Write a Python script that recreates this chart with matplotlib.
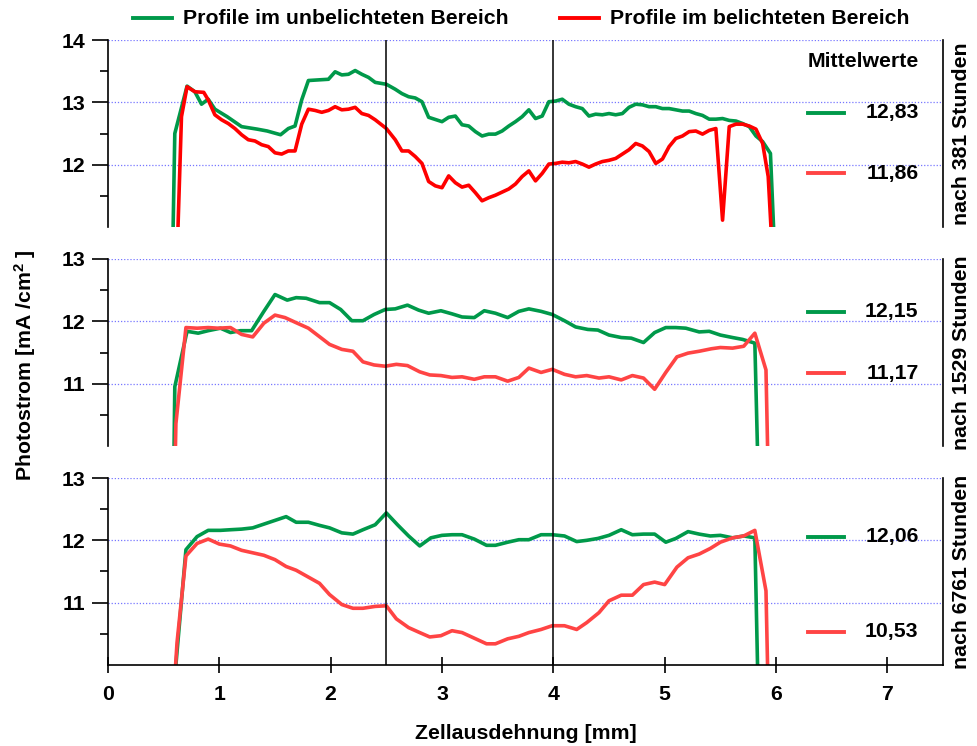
import matplotlib
matplotlib.use("Agg")
import matplotlib.pyplot as plt
from matplotlib.lines import Line2D
from matplotlib.ticker import FixedLocator

plt.rcParams["font.family"] = ["Liberation Sans", "DejaVu Sans"]
plt.rcParams["font.weight"] = "bold"
plt.rcParams["mathtext.fontset"] = "custom"
plt.rcParams["mathtext.rm"] = "Liberation Sans:bold"
plt.rcParams["mathtext.it"] = "Liberation Sans:bold"
plt.rcParams["mathtext.bf"] = "Liberation Sans:bold"

# --- data: nach 381 Stunden ---
x381_g = [0.58, 0.60, 0.71, 0.78, 0.84, 0.90, 0.96, 1.07, 1.20, 1.34, 1.43, 1.55, 1.62, 1.68,
          1.74, 1.80, 1.98, 2.04, 2.10, 2.16, 2.22, 2.28, 2.34, 2.40, 2.50, 2.58, 2.64, 2.70,
          2.76, 2.82, 2.88, 3.00, 3.06, 3.12, 3.18, 3.24, 3.30, 3.36, 3.42, 3.48, 3.54, 3.60,
          3.66, 3.72, 3.78, 3.84, 3.90, 3.96, 4.02, 4.08, 4.14, 4.20, 4.26, 4.32, 4.38, 4.44,
          4.50, 4.56, 4.62, 4.68, 4.74, 4.80, 4.86, 4.92, 4.98, 5.04, 5.10, 5.16, 5.22, 5.28,
          5.34, 5.40, 5.46, 5.52, 5.58, 5.64, 5.70, 5.76, 5.82, 5.88, 5.95, 5.99]
y381_g = [10.5, 12.50, 13.26, 13.17, 12.97, 13.05, 12.89, 12.77, 12.61, 12.57, 12.54, 12.48, 12.58, 12.62,
          13.04, 13.35, 13.37, 13.49, 13.44, 13.45, 13.51, 13.45, 13.40, 13.32, 13.29, 13.21, 13.14, 13.09,
          13.07, 13.01, 12.76, 12.69, 12.76, 12.78, 12.64, 12.62, 12.53, 12.46, 12.49, 12.49, 12.54, 12.62,
          12.69, 12.77, 12.88, 12.74, 12.78, 13.01, 13.02, 13.05, 12.97, 12.93, 12.90, 12.78, 12.81, 12.80,
          12.82, 12.80, 12.82, 12.92, 12.97, 12.96, 12.93, 12.93, 12.90, 12.90, 12.88, 12.86, 12.86, 12.82,
          12.79, 12.73, 12.73, 12.74, 12.71, 12.70, 12.66, 12.61, 12.46, 12.37, 12.18, 10.5]
x381_r = [0.62, 0.66, 0.71, 0.78, 0.86, 0.90, 0.96, 1.02, 1.08, 1.14, 1.20, 1.26, 1.32, 1.38,
          1.44, 1.50, 1.56, 1.62, 1.68, 1.74, 1.80, 1.86, 1.92, 1.98, 2.04, 2.10, 2.16, 2.22,
          2.28, 2.34, 2.40, 2.50, 2.58, 2.64, 2.70, 2.76, 2.82, 2.88, 2.94, 3.00, 3.06, 3.12,
          3.18, 3.24, 3.30, 3.36, 3.42, 3.48, 3.54, 3.60, 3.66, 3.72, 3.78, 3.84, 3.90, 3.96,
          4.02, 4.08, 4.14, 4.20, 4.26, 4.32, 4.38, 4.44, 4.50, 4.56, 4.62, 4.68, 4.74, 4.80,
          4.86, 4.92, 4.98, 5.04, 5.10, 5.16, 5.22, 5.28, 5.34, 5.40, 5.46, 5.52, 5.58, 5.64,
          5.70, 5.76, 5.82, 5.88, 5.93, 5.97]
y381_r = [10.5, 12.77, 13.25, 13.17, 13.16, 13.04, 12.80, 12.72, 12.66, 12.58, 12.48, 12.40, 12.38, 12.32,
          12.29, 12.19, 12.17, 12.22, 12.22, 12.65, 12.89, 12.87, 12.84, 12.87, 12.93, 12.88, 12.89, 12.92,
          12.82, 12.79, 12.72, 12.58, 12.40, 12.22, 12.22, 12.13, 12.02, 11.73, 11.66, 11.63, 11.82, 11.71,
          11.64, 11.67, 11.55, 11.42, 11.47, 11.51, 11.56, 11.61, 11.69, 11.81, 11.90, 11.74, 11.86, 12.01,
          12.02, 12.04, 12.03, 12.05, 12.01, 11.96, 12.01, 12.05, 12.07, 12.10, 12.17, 12.24, 12.34, 12.30,
          12.21, 12.02, 12.09, 12.29, 12.42, 12.46, 12.53, 12.54, 12.49, 12.55, 12.58, 11.11, 12.61, 12.65,
          12.65, 12.62, 12.57, 12.34, 11.81, 10.5]

# --- data: nach 1529 Stunden ---
x1529_g = [0.59, 0.60, 0.71, 0.81, 0.90, 1.01, 1.10, 1.19, 1.29, 1.40, 1.50, 1.61, 1.69, 1.78,
           1.90, 1.99, 2.09, 2.19, 2.29, 2.39, 2.49, 2.58, 2.69, 2.79, 2.88, 2.99, 3.09, 3.18,
           3.29, 3.38, 3.48, 3.59, 3.69, 3.78, 3.89, 3.99, 4.10, 4.20, 4.31, 4.40, 4.50, 4.61,
           4.70, 4.81, 4.91, 5.01, 5.10, 5.19, 5.31, 5.40, 5.50, 5.61, 5.70, 5.81, 5.84]
y1529_g = [9.5, 10.95, 11.84, 11.81, 11.85, 11.89, 11.82, 11.85, 11.85, 12.16, 12.43, 12.34, 12.38, 12.37,
           12.30, 12.30, 12.19, 12.01, 12.01, 12.11, 12.19, 12.20, 12.26, 12.18, 12.13, 12.17, 12.12, 12.07,
           12.06, 12.17, 12.13, 12.06, 12.16, 12.20, 12.16, 12.11, 12.01, 11.91, 11.87, 11.86, 11.78, 11.74,
           11.73, 11.66, 11.82, 11.90, 11.90, 11.89, 11.83, 11.84, 11.78, 11.74, 11.71, 11.65, 9.5]
x1529_r = [0.60, 0.61, 0.70, 0.80, 0.90, 0.99, 1.10, 1.20, 1.30, 1.40, 1.50, 1.59, 1.70, 1.80,
           1.91, 1.99, 2.10, 2.20, 2.29, 2.39, 2.49, 2.59, 2.69, 2.80, 2.89, 2.99, 3.09, 3.18,
           3.29, 3.38, 3.48, 3.59, 3.69, 3.78, 3.89, 3.99, 4.10, 4.20, 4.30, 4.41, 4.50, 4.61,
           4.71, 4.81, 4.91, 5.01, 5.11, 5.21, 5.31, 5.42, 5.50, 5.61, 5.71, 5.81, 5.91, 5.93]
y1529_r = [9.5, 10.36, 11.90, 11.89, 11.90, 11.89, 11.90, 11.79, 11.75, 11.97, 12.10, 12.06, 11.97, 11.89,
           11.74, 11.63, 11.55, 11.52, 11.35, 11.30, 11.28, 11.31, 11.29, 11.19, 11.14, 11.13, 11.10, 11.11,
           11.07, 11.11, 11.11, 11.04, 11.10, 11.25, 11.18, 11.23, 11.15, 11.11, 11.13, 11.09, 11.11, 11.06,
           11.13, 11.09, 10.91, 11.18, 11.43, 11.49, 11.52, 11.56, 11.58, 11.57, 11.60, 11.81, 11.22, 9.5]

# --- data: nach 6761 Stunden ---
x6761_g = [0.60, 0.70, 0.80, 0.90, 1.01, 1.10, 1.20, 1.30, 1.40, 1.50, 1.60, 1.69, 1.80, 1.90,
           1.99, 2.10, 2.20, 2.29, 2.40, 2.50, 2.60, 2.70, 2.80, 2.90, 3.00, 3.09, 3.18, 3.29,
           3.40, 3.48, 3.59, 3.69, 3.78, 3.89, 3.99, 4.10, 4.21, 4.30, 4.40, 4.50, 4.61, 4.71,
           4.81, 4.91, 5.01, 5.10, 5.21, 5.31, 5.41, 5.50, 5.61, 5.71, 5.81, 5.84]
y6761_g = [9.8, 11.85, 12.06, 12.16, 12.16, 12.17, 12.18, 12.20, 12.26, 12.32, 12.38, 12.29, 12.29, 12.24,
           12.20, 12.12, 12.10, 12.17, 12.25, 12.44, 12.25, 12.07, 11.91, 12.04, 12.08, 12.09, 12.09, 12.02,
           11.92, 11.92, 11.97, 12.01, 12.01, 12.09, 12.09, 12.07, 11.98, 12.00, 12.03, 12.08, 12.17, 12.09,
           12.10, 12.10, 11.97, 12.03, 12.14, 12.10, 12.07, 12.08, 12.04, 12.07, 12.04, 9.5]
x6761_r = [0.60, 0.62, 0.70, 0.80, 0.90, 1.00, 1.10, 1.20, 1.30, 1.40, 1.50, 1.60, 1.69, 1.80,
           1.90, 1.99, 2.10, 2.20, 2.29, 2.40, 2.50, 2.59, 2.70, 2.80, 2.89, 2.99, 3.09, 3.18,
           3.29, 3.40, 3.48, 3.59, 3.69, 3.78, 3.89, 3.99, 4.10, 4.21, 4.30, 4.41, 4.50, 4.61,
           4.71, 4.81, 4.91, 5.00, 5.11, 5.21, 5.31, 5.41, 5.50, 5.61, 5.71, 5.81, 5.91, 5.93]
y6761_r = [9.8, 10.36, 11.75, 11.95, 12.02, 11.94, 11.91, 11.84, 11.80, 11.76, 11.69, 11.58, 11.52, 11.41,
           11.31, 11.13, 10.97, 10.91, 10.91, 10.94, 10.95, 10.74, 10.60, 10.52, 10.45, 10.47, 10.55, 10.52,
           10.43, 10.34, 10.34, 10.42, 10.46, 10.52, 10.57, 10.63, 10.63, 10.57, 10.68, 10.84, 11.03, 11.12,
           11.12, 11.29, 11.33, 11.29, 11.57, 11.72, 11.78, 11.87, 11.97, 12.04, 12.07, 12.16, 11.19, 9.5]

panel_labels = ["nach 381 Stunden", "nach 1529 Stunden", "nach 6761 Stunden"]
means_green = [12.83, 12.15, 12.06]
means_red = [11.86, 11.17, 10.53]
ylims = [(11, 14), (10, 13), (10, 13)]
major_ticks = [[12, 13, 14], [11, 12, 13], [11, 12, 13]]
minor_ticks = [[11.5, 12.5, 13.5], [10.5, 11.5, 12.5], [10.5, 11.5, 12.5]]
x_ticks = [0, 1, 2, 3, 4, 5, 6, 7]
marker_lines = [2.5, 4.0]
legend_labels = ["Profile im unbelichteten Bereich", "Profile im belichteten Bereich"]

green = "#00994a"
red_top = "#ff0000"
red = "#ff4444"
grid_col = "#7777ff"
fs = 15.3

series = [(x381_g, y381_g, x381_r, y381_r, red_top),
          (x1529_g, y1529_g, x1529_r, y1529_r, red),
          (x6761_g, y6761_g, x6761_r, y6761_r, red)]

fig = plt.figure(figsize=(9.77, 7.46), dpi=100)
left, width, height = 108 / 977, 835 / 977, 187 / 746
tops = [40, 259, 478]
axes = []
for i, top in enumerate(tops):
    ax = fig.add_axes([left, 1 - (top + 187) / 746, width, height])
    axes.append(ax)
    xg, yg, xr, yr, rc = series[i]
    ax.plot(xg, yg, color=green, lw=2.6, solid_joinstyle="round")
    ax.plot(xr, yr, color=rc, lw=2.6, solid_joinstyle="round")
    ax.set_xlim(0, 7.5)
    ax.set_ylim(*ylims[i])
    ax.yaxis.set_major_locator(FixedLocator(major_ticks[i]))
    ax.yaxis.set_minor_locator(FixedLocator(minor_ticks[i]))
    ax.yaxis.grid(True, which="major", color=grid_col, linestyle=(0, (1, 1.5)), lw=0.9)
    ax.tick_params(axis="y", which="major", direction="out", length=11.3, width=1.2,
                   labelsize=fs, pad=5)
    ax.tick_params(axis="y", which="minor", direction="out", length=5.7, width=1.2)
    ax.spines["top"].set_visible(False)
    for s in ["left", "right", "bottom"]:
        ax.spines[s].set_linewidth(1.2)
    if i < 2:
        ax.spines["bottom"].set_visible(False)
        ax.tick_params(axis="x", bottom=False, labelbottom=False)
    else:
        ax.set_xticks(x_ticks)
        ax.tick_params(axis="x", direction="inout", length=11.5, width=1.2,
                       labelsize=fs, pad=9)
        ax.set_xlabel("Zellausdehnung [mm]", fontsize=fs, fontweight="bold", labelpad=14)
    # Mittelwerte
    ax.plot([6.29, 6.61], [means_green[i]] * 2, color=green, lw=2.8)
    ax.plot([6.29, 6.61], [means_red[i]] * 2, color=red, lw=2.8)
    ax.text(7.28, means_green[i], ("%.2f" % means_green[i]).replace(".", ","),
            ha="right", va="center", fontsize=fs)
    ax.text(7.28, means_red[i], ("%.2f" % means_red[i]).replace(".", ","),
            ha="right", va="center", fontsize=fs)
    ax.text(1.022, 0.5, panel_labels[i], transform=ax.transAxes, rotation=90,
            ha="center", va="center", fontsize=fs)

axes[0].text(7.28, 13.65, "Mittelwerte", ha="right", va="center", fontsize=fs)

# durchgehende senkrechte Linien
over = fig.add_axes([left, 1 - 665 / 746, width, (665 - 40) / 746])
over.set_xlim(0, 7.5)
over.set_ylim(0, 1)
over.axis("off")
for xv in marker_lines:
    over.axvline(xv, color="black", lw=1.1)

fig.text(25 / 977, 1 - 365 / 746, "Photostrom [mA /cm$^{2}$ ]", rotation=90,
         ha="center", va="center", fontsize=fs)

# Legende oben
ly = 1 - 18 / 746
fig.add_artist(Line2D([133 / 977, 172 / 977], [ly, ly], color=green, lw=2.8))
fig.text(183 / 977, ly, legend_labels[0], ha="left", va="center", fontsize=fs)
fig.add_artist(Line2D([560 / 977, 599 / 977], [ly, ly], color=red_top, lw=2.8))
fig.text(610 / 977, ly, legend_labels[1], ha="left", va="center", fontsize=fs)

fig.savefig("out.png", dpi=100)
